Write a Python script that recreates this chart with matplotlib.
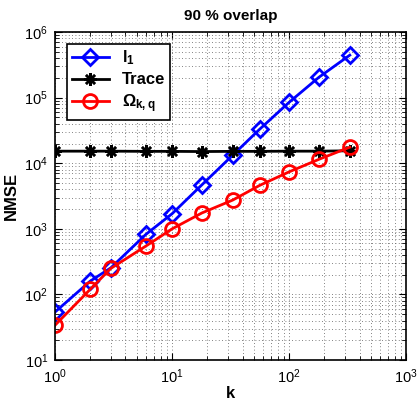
import matplotlib
matplotlib.use('Agg')
import matplotlib.pyplot as plt

plt.rcParams['font.family'] = ['Liberation Sans', 'DejaVu Sans']
plt.rcParams['mathtext.fontset'] = 'custom'
plt.rcParams['mathtext.rm'] = 'Liberation Sans:bold'
plt.rcParams['mathtext.it'] = 'Liberation Sans:bold'
plt.rcParams['mathtext.bf'] = 'Liberation Sans:bold'

k = [1, 2, 3, 6, 10, 18, 33, 56, 100, 180, 330]
l1 = [54, 160, 255, 830, 1700, 4700, 13300, 33000, 85000, 205000, 445000]
trace = [15300, 15300, 15300, 15200, 15200, 15100, 15200, 15200, 15300, 15300, 15500]
omega = [34, 120, 250, 550, 1000, 1750, 2750, 4600, 7400, 11500, 17600]

fig = plt.figure(figsize=(4.18, 4.01), dpi=100)
ax = fig.add_axes([0.1316, 0.102, 0.840, 0.818])

ax.plot(k, l1, color='blue', lw=2, marker='D', ms=8, mfc='none', mew=2, label=r'$\mathregular{l_1}$')
ax.plot(k, trace, color='black', lw=2, marker=(8, 2, 0), ms=9, mew=1.8, label='Trace')
ax.plot(k, omega, color='red', lw=2, marker='o', ms=10, mfc='none', mew=2, label=r'$\mathregular{\Omega_{k,q}}$')

ax.set_xscale('log')
ax.set_yscale('log')
ax.set_xlim(1, 1000)
ax.set_ylim(10, 1e6)
ax.grid(True, which='both', linestyle=(0, (1, 3)), color='0.35', lw=0.6)
ax.tick_params(which='both', direction='in', top=True, right=True, labelsize=10.5, pad=5)
ax.tick_params(which='major', length=5)
ax.tick_params(which='minor', length=3)
for s in ax.spines.values():
    s.set_linewidth(1.2)

ax.set_xlabel('k', fontsize=12, fontweight='bold', labelpad=0)
ax.set_ylabel('NMSE', fontsize=12, fontweight='bold', labelpad=4)
ax.set_title('90 % overlap', fontsize=11, fontweight='bold', pad=9)

leg = ax.legend(loc='upper left', fancybox=False, edgecolor='black', framealpha=1,
                prop={'weight': 'bold', 'size': 12}, handlelength=2.2,
                borderpad=0.3, labelspacing=0.3, bbox_to_anchor=(0.01, 0.99))
leg.get_frame().set_linewidth(1.2)

fig.savefig('out.png', dpi=100)
